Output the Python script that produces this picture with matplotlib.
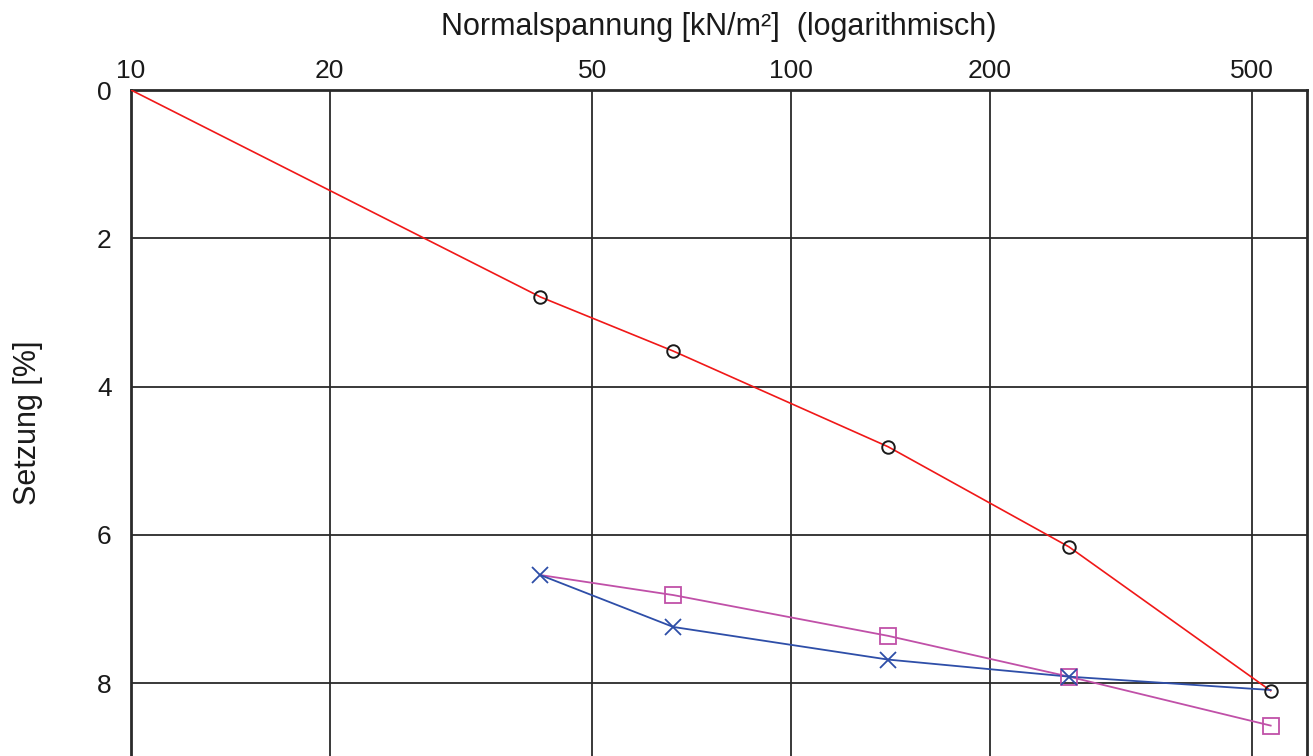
import matplotlib
matplotlib.use("Agg")
import matplotlib.pyplot as plt
from matplotlib.ticker import FixedLocator, FixedFormatter, NullLocator

plt.rcParams['font.family'] = ['Liberation Sans', 'DejaVu Sans']

# Data
x_red = [10, 41.7, 66.3, 140.3, 263.7, 533]
y_red = [0.0, 2.79, 3.52, 4.81, 6.16, 8.10]

x_blue = [41.7, 66.3, 140.3, 263.7, 533]
y_blue = [6.54, 7.24, 7.68, 7.91, 8.09]

x_mag = [41.7, 66.3, 140.3, 263.7, 533]
y_mag = [6.54, 6.81, 7.36, 7.91, 8.57]

x_ticks = [10, 20, 50, 100, 200, 500]
x_ticklabels = ["10", "20", "50", "100", "200", "500"]
y_ticks = [0, 2, 4, 6, 8]
y_ticklabels = ["0", "2", "4", "6", "8"]

fig = plt.figure(figsize=(13.13, 7.56), dpi=100)
ax = fig.add_axes([131/1313, 0.0, (1307-131)/1313, 1 - 90/756])

ax.set_xscale('log')
ax.set_xlim(10, 605)
ax.set_ylim(8.98, 0)

ax.xaxis.set_major_locator(FixedLocator(x_ticks))
ax.xaxis.set_major_formatter(FixedFormatter(x_ticklabels))
ax.xaxis.set_minor_locator(NullLocator())
ax.set_yticks(y_ticks)
ax.set_yticklabels(y_ticklabels)

ax.xaxis.tick_top()
ax.xaxis.set_label_position('top')
ax.tick_params(axis='both', length=0, labelsize=19, colors='#1a1a1a')
ax.tick_params(axis='x', pad=5)
ax.tick_params(axis='y', pad=14)

ax.grid(True, which='major', color='#2a2a2a', linewidth=1.3)
ax.set_axisbelow(True)
for s in ['top', 'left', 'right']:
    ax.spines[s].set_linewidth(2.0)
    ax.spines[s].set_color('#2a2a2a')
ax.spines['bottom'].set_visible(False)

# Series
ax.plot(x_red, y_red, color='#f01818', linewidth=1.2, zorder=3)
ax.plot(x_red[1:], y_red[1:], linestyle='none', marker='o', markersize=9,
        markerfacecolor='none', markeredgecolor='#1a1a1a', markeredgewidth=1.4, zorder=5)

ax.plot(x_mag, y_mag, color='#c050a8', linewidth=1.3, zorder=3)
ax.plot(x_mag[1:], y_mag[1:], linestyle='none', marker='s', markersize=11,
        markerfacecolor='none', markeredgecolor='#c050a8', markeredgewidth=1.3, zorder=4)

ax.plot(x_blue, y_blue, color='#2e4ea8', linewidth=1.3, zorder=3)
ax.plot(x_blue[:-1], y_blue[:-1], linestyle='none', marker='x', markersize=12,
        markeredgecolor='#2e4ea8', markeredgewidth=1.3, zorder=4)

ax.set_xlabel("Normalspannung [kN/m²]  (logarithmisch)", fontsize=22,
              color='#1a1a1a', va='center')
ax.xaxis.set_label_coords(0.5, (756 - 27) / 666)
ax.set_ylabel("Setzung [%]", fontsize=22, color='#1a1a1a', va='center')
ax.yaxis.set_label_coords((28 - 131) / 1176, (756 - 423) / 666)

fig.savefig("out.png", dpi=100)
